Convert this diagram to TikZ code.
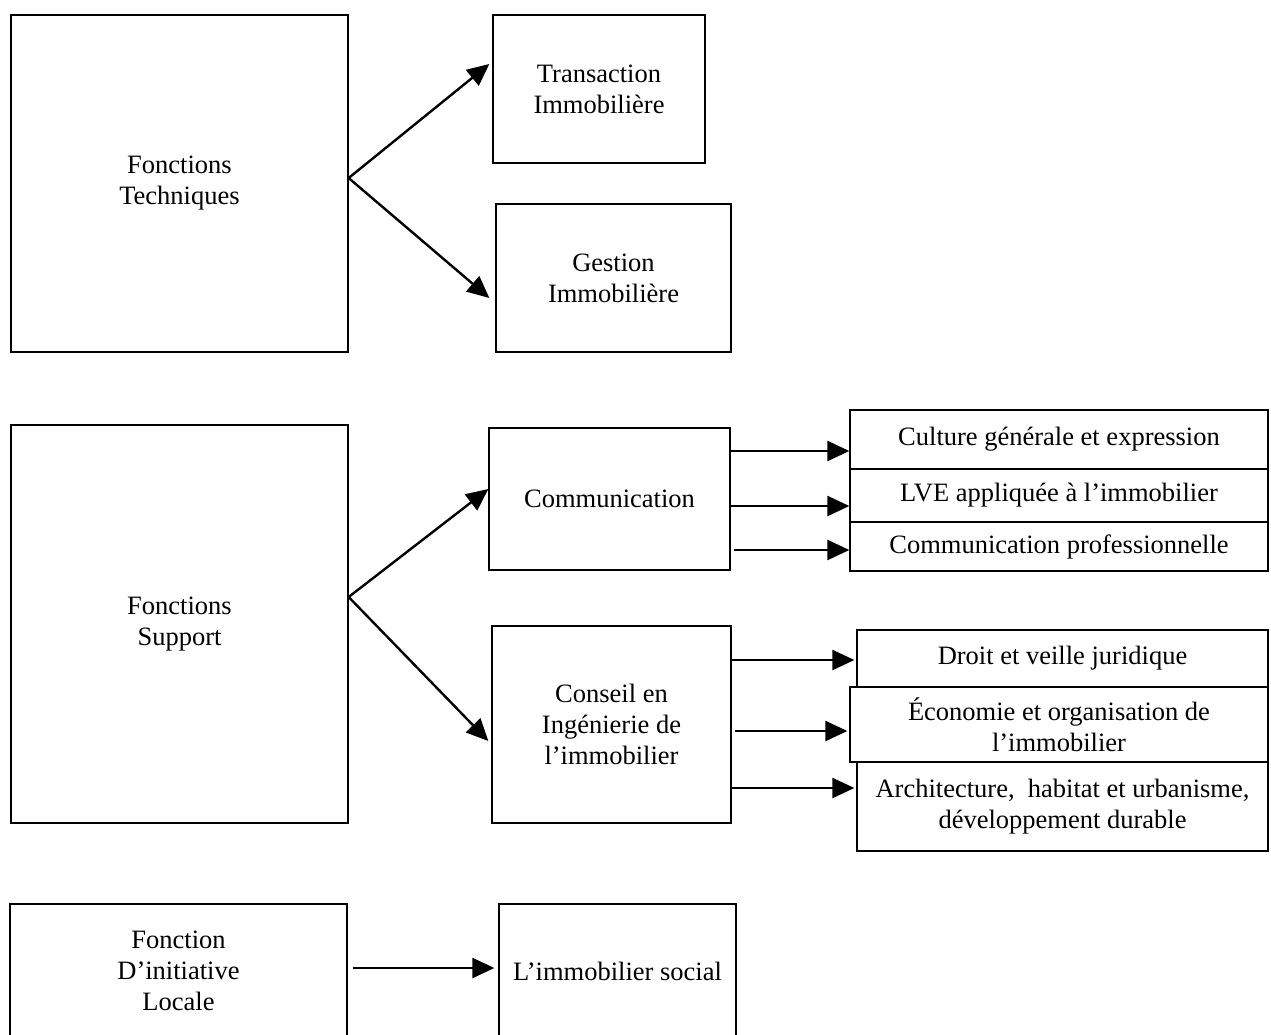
\documentclass[tikz,border=0pt]{standalone}
\usepackage{fontspec}
\setmainfont{Liberation Serif}
\usetikzlibrary{arrows.meta}
\tikzstyle{box} = [rectangle, draw=black, line width=0.65pt, inner sep=0pt, align=center, font=\fontsize{13.25}{15.5}\selectfont]
\tikzstyle{arrow} = [line width=1.2pt, -{Triangle[length=11pt,width=10pt]}]

\begin{document}
\begin{tikzpicture}[x=0.5pt, y=-0.5pt]
\useasboundingbox (0,0) rectangle (1271,1035);
\clip (0,0) rectangle (1271,1035);

% top group
\node (tech) [box, minimum width=168.5pt, minimum height=168.5pt] at (179.5,183.5) {Fonctions\\Techniques};
\node (trans) [box, minimum width=106pt, minimum height=74pt] at (599,89) {Transaction\\Immobilière};
\node (gest) [box, minimum width=117.5pt, minimum height=74pt] at (613.5,278) {Gestion\\Immobilière};

% middle group
\node (support) [box, minimum width=168.5pt, minimum height=199pt] at (179.5,624) {Fonctions\\Support};
\node (comm) [box, minimum width=120.5pt, minimum height=71pt] at (609.5,499) {Communication};
\node (conseil) [box, minimum width=119.5pt, minimum height=98.5pt] at (611.5,724.5) {Conseil en\\Ingénierie de\\l’immobilier};
\node (culture) [box, minimum width=209pt, minimum height=29.5pt] at (1059,439.5) {Culture générale et expression};
\node (lve) [box, minimum width=209pt, minimum height=26.5pt] at (1059,495.5) {LVE appliquée à l’immobilier};
\node (cpro) [box, minimum width=209pt, minimum height=24.5pt] at (1059,546.5) {Communication professionnelle};
\node (droit) [box, minimum width=205.5pt, minimum height=28.5pt] at (1062.5,658.5) {Droit et veille juridique};
\node (eco) [box, minimum width=209pt, minimum height=37.5pt] at (1059,724.5) {Économie et organisation de\\l’immobilier};
\node (archi) [box, minimum width=205.5pt, minimum height=44.5pt] at (1062.5,806.5) {Architecture,\ \ habitat et urbanisme,\\développement durable};

% bottom group
\node (local) [box, minimum width=168.5pt, minimum height=67pt] at (178.5,971) {Fonction\\D’initiative\\Locale};
\node (social) [box, minimum width=118.5pt, minimum height=67pt] at (617.5,971) {L’immobilier social};

\draw [arrow] ([yshift=2.75pt]tech.east) -- ([xshift=-1.5pt,yshift=12.5pt]trans.west);
\draw [arrow] ([yshift=2.75pt]tech.east) -- ([xshift=-3pt,yshift=-10pt]gest.west);
\draw [arrow] ([yshift=13.5pt]support.east) -- ([yshift=5pt]comm.west);
\draw [arrow] ([yshift=13.5pt]support.east) -- ([xshift=-1.5pt,yshift=-8.25pt]conseil.west);
\draw [arrow] ([yshift=24pt]comm.east) -- ([yshift=-5.75pt]culture.west);
\draw [arrow] ([yshift=-3.5pt]comm.east) -- ([yshift=-5.25pt]lve.west);
\draw [arrow] ([xshift=1.5pt,yshift=-25.5pt]comm.east) -- ([yshift=-1.75pt]cpro.west);
\draw [arrow] ([xshift=-0.5pt,yshift=32.25pt]conseil.east) -- ([xshift=-1pt,yshift=-0.75pt]droit.west);
\draw [arrow] ([xshift=1.5pt,yshift=-3.25pt]conseil.east) -- ([xshift=-1pt,yshift=-3.25pt]eco.west);
\draw [arrow] ([xshift=-0.5pt,yshift=-31.75pt]conseil.east) -- ([xshift=-1pt,yshift=9.25pt]archi.west);
\draw [arrow] ([xshift=2.5pt,yshift=1.5pt]local.east) -- ([xshift=-2pt,yshift=1.5pt]social.west);
\end{tikzpicture}
\end{document}
